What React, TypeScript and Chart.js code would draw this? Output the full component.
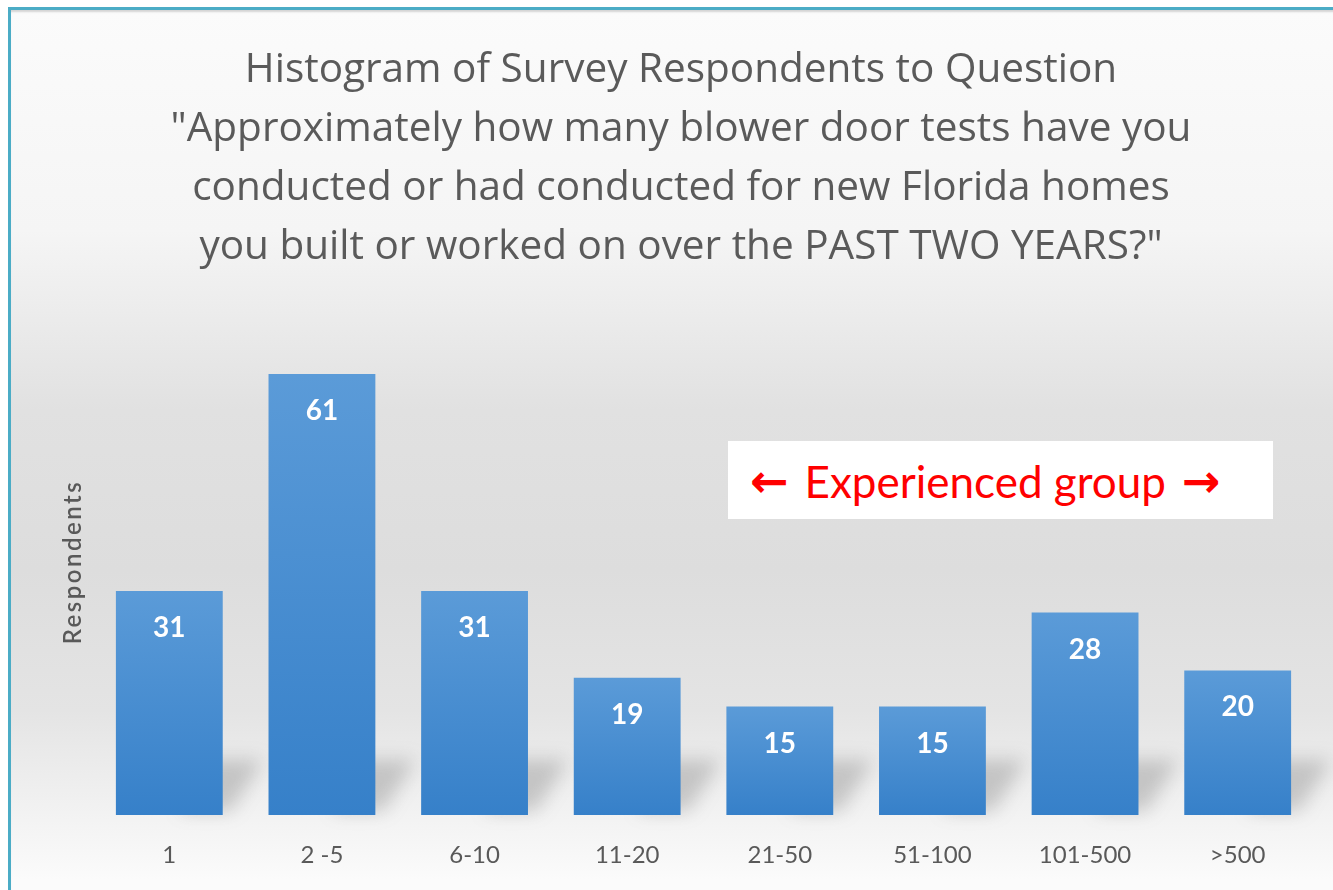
import React, { useEffect, useRef } from "react";
import { Chart, registerables } from "chart.js";

Chart.register(...registerables);

const categories = ["1", "2 -5", "6-10", "11-20", "21-50", "51-100", "101-500", ">500"];
const respondents = [31, 61, 31, 19, 15, 15, 28, 20];
const titleLines = [
  "Histogram of Survey Respondents to Question",
  "\"Approximately how many blower door tests have you",
  "conducted or had conducted for new Florida homes",
  "you built or worked on over the PAST TWO YEARS?\"",
];
const yAxisTitle = "Respondents";
const calloutLabel = "Experienced group";

const FONT = "Lato, 'Open Sans', sans-serif";
const TITLE_FONT = "'Open Sans', Lato, sans-serif";

const barShadowPlugin = {
  id: "barShadow",
  beforeDatasetsDraw(chart: any) {
    const ctx = chart.ctx;
    const meta = chart.getDatasetMeta(0);
    ctx.save();
    ctx.filter = "blur(9px)";
    ctx.fillStyle = "rgba(90,90,90,0.28)";
    meta.data.forEach((bar: any) => {
      const w = bar.width;
      const right = bar.x + w / 2;
      const bottom = bar.base;
      const h = Math.min(55, bottom - bar.y);
      ctx.beginPath();
      ctx.moveTo(right - w * 0.4, bottom - 4);
      ctx.lineTo(right + 8, bottom - 4);
      ctx.lineTo(right + 40, bottom - h);
      ctx.lineTo(right - w * 0.2, bottom - h);
      ctx.closePath();
      ctx.fill();
    });
    ctx.restore();
  },
};

const labelPlugin = {
  id: "valueLabels",
  afterDatasetsDraw(chart: any) {
    const ctx = chart.ctx;
    const meta = chart.getDatasetMeta(0);
    ctx.save();
    ctx.fillStyle = "#ffffff";
    ctx.font = `bold 28px ${FONT}`;
    ctx.textAlign = "center";
    ctx.textBaseline = "middle";
    meta.data.forEach((bar: any, i: number) => {
      ctx.fillText(String(respondents[i]), bar.x, bar.y + 37);
    });
    ctx.restore();
  },
};

const yTitlePlugin = {
  id: "yTitle",
  afterDraw(chart: any) {
    const ctx = chart.ctx;
    const y = chart.scales.y;
    const cy = (y.top + y.bottom) / 2 + 1;
    ctx.save();
    ctx.translate(73, cy);
    ctx.rotate(-Math.PI / 2);
    ctx.fillStyle = "#595959";
    ctx.font = `600 24px ${FONT}`;
    (ctx as any).letterSpacing = "2.5px";
    ctx.textAlign = "center";
    ctx.textBaseline = "middle";
    ctx.fillText(yAxisTitle, 1, 0);
    ctx.restore();
  },
};

export default function App() {
  const canvasRef = useRef<HTMLCanvasElement | null>(null);

  useEffect(() => {
    const canvas = canvasRef.current;
    if (!canvas) return;
    const chart = new Chart(canvas, {
      type: "bar",
      data: {
        labels: categories,
        datasets: [
          {
            label: yAxisTitle,
            data: respondents,
            backgroundColor: (c: any) => {
              const ch = c.chart;
              const y = ch.scales && ch.scales.y;
              if (!y || c.dataIndex === undefined) return "#4a8fd2";
              const top = y.getPixelForValue(respondents[c.dataIndex]);
              const bottom = y.getPixelForValue(0);
              if (!isFinite(top) || !isFinite(bottom) || top === bottom) return "#4a8fd2";
              const g = ch.ctx.createLinearGradient(0, top, 0, bottom);
              g.addColorStop(0, "#5b9bd8");
              g.addColorStop(1, "#3680c9");
              return g;
            },
            borderWidth: 0,
            barPercentage: 0.7,
            categoryPercentage: 1,
          },
        ],
      },
      options: {
        responsive: false,
        animation: false,
        layout: { padding: { left: 48, right: 19, top: 0, bottom: 0 } },
        plugins: {
          legend: { display: false },
          tooltip: { enabled: false },
          title: {
            display: true,
            text: titleLines,
            color: "#5a5a5a",
            font: { family: TITLE_FONT, size: 40.5, weight: "normal", lineHeight: 1.457 },
            padding: { top: 41, bottom: 32 },
          },
        },
        scales: {
          x: {
            grid: { display: false, drawTicks: false },
            border: { display: false },
            ticks: {
              color: "#595959",
              font: { family: FONT, size: 24 },
              padding: 26,
            },
            afterFit: (s: any) => {
              s.height = 75;
            },
          },
          y: {
            min: 0,
            max: 70,
            grid: { display: false, drawTicks: false },
            border: { display: false },
            ticks: { display: false },
            title: { display: false },
            afterFit: (s: any) => {
              s.width = 45;
            },
          },
        },
      },
      plugins: [barShadowPlugin, labelPlugin, yTitlePlugin],
    });
    return () => chart.destroy();
  }, []);

  const arrowStyle: React.CSSProperties = {
    fontFamily: "'DejaVu Sans', sans-serif",
    fontSize: 46,
    fontWeight: "bold",
    display: "inline-block",
    verticalAlign: "middle",
    lineHeight: "68px",
  };

  return (
    <div style={{ position: "absolute", left: 0, top: 0, width: 1333, height: 890, overflow: "hidden", background: "#ffffff" }}>
      <div
        style={{
          position: "absolute",
          left: 8,
          top: 7,
          width: 1340,
          height: 900,
          borderTop: "3px solid #4bacc6",
          borderLeft: "3px solid #4bacc6",
          boxShadow: "inset 0 3px 2px -1px #d4d4d4",
          background:
            "linear-gradient(to bottom, #fbfbfb 0px, #f5f5f5 220px, #e1e1e1 400px, #dddddd 560px, #e4e4e4 700px, #f3f3f3 810px, #fbfbfb 870px)",
        }}
      />
      <canvas ref={canvasRef} width={1333} height={890} style={{ position: "absolute", left: 0, top: 0 }} />
      <div
        style={{
          position: "absolute",
          left: 728,
          top: 441,
          width: 545,
          height: 78,
          background: "#ffffff",
          color: "#ff0000",
          fontFamily: FONT,
          fontSize: 44,
          lineHeight: "68px",
          textAlign: "left",
          paddingLeft: 22,
          boxSizing: "border-box",
          whiteSpace: "nowrap",
        }}
      >
        <span style={arrowStyle}>{"\u2190"}</span>
        <span style={{ display: "inline-block", verticalAlign: "middle", margin: "0 16px 0 16px", lineHeight: "68px" }}>{calloutLabel}</span>
        <span style={arrowStyle}>{"\u2192"}</span>
      </div>
    </div>
  );
}
